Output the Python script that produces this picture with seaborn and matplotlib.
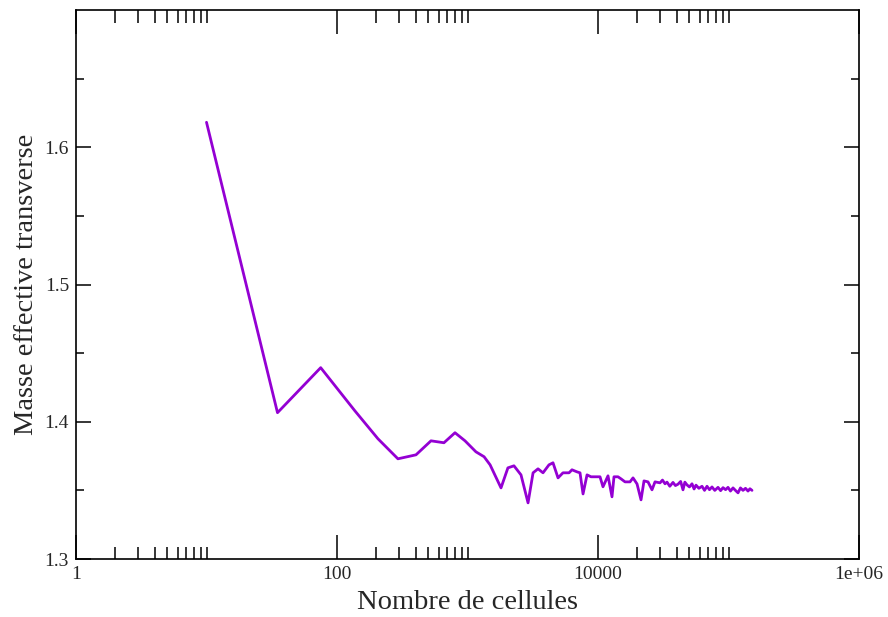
import numpy as np
import pandas as pd
import matplotlib
matplotlib.use("Agg")
import matplotlib.pyplot as plt
import seaborn as sns
from matplotlib.ticker import FixedLocator, NullFormatter

# nombre de cellules / masse effective transverse
cells = [10, 35, 75, 137, 206, 293, 403, 525, 660, 802,
         957, 1160, 1340, 1490, 1806, 2040, 2270, 2570, 2910, 3180,
         3470, 3790, 4210, 4520, 4940, 5390, 6000, 6320, 6900, 7280,
         7680, 8240, 8840, 10360, 10920, 11930, 12800, 13260, 14230, 15010,
         16110, 17590, 18550, 19910, 21360, 22520, 24160, 25930, 27340, 29870,
         31200, 32620, 33790, 35500, 37550, 39200, 41020, 43000, 44800, 46300,
         48080, 50200, 52520, 54500, 56370, 59300, 62660, 65500, 68430, 71500,
         74740, 78500, 83100, 87000, 90780, 95000, 99130, 103500, 108300, 113000,
         118300, 123500, 129200, 135000, 141100, 146000, 151400]
masse = [1.6182, 1.4066, 1.4394, 1.4080, 1.3876, 1.3730, 1.3759, 1.3861, 1.3847, 1.3920,
         1.3861, 1.3781, 1.3745, 1.3686, 1.3518, 1.3664, 1.3679, 1.3613, 1.3409, 1.3628,
         1.3657, 1.3628, 1.3686, 1.3701, 1.3591, 1.3628, 1.3628, 1.3650, 1.3635, 1.3628,
         1.3474, 1.3613, 1.3599, 1.3599, 1.3526, 1.3606, 1.3453, 1.3599, 1.3599, 1.3584,
         1.3562, 1.3562, 1.3591, 1.3547, 1.3431, 1.3569, 1.3562, 1.3504, 1.3562, 1.3555,
         1.3575, 1.3548, 1.3560, 1.3530, 1.3558, 1.3535, 1.3545, 1.3565, 1.3504, 1.3560,
         1.3540, 1.3525, 1.3548, 1.3510, 1.3538, 1.3515, 1.3530, 1.3500, 1.3530, 1.3505,
         1.3525, 1.3500, 1.3522, 1.3498, 1.3520, 1.3505, 1.3522, 1.3495, 1.3518, 1.3500,
         1.3482, 1.3518, 1.3500, 1.3515, 1.3495, 1.3512, 1.3500]

x_major = [1, 100, 10000, 1e6]
x_major_labels = ["1", "100", "10000", "1e+06"]
y_major = [1.3, 1.4, 1.5, 1.6]
y_minor = [1.35, 1.45, 1.55, 1.65]

sns.set_style("ticks")
plt.rcParams['font.family'] = ['Liberation Serif', 'DejaVu Serif']

df = pd.DataFrame({"cells": cells, "masse": masse})

fig = plt.figure(figsize=(8.88, 6.17), dpi=100)
ax = fig.add_axes([76 / 888, 58 / 617, 783 / 888, 549 / 617])

sns.lineplot(data=df, x="cells", y="masse", color="#9400d3", linewidth=2,
             estimator=None, sort=False, ax=ax)

ax.set_xscale("log")
ax.set_xlim(1, 1e6)
ax.set_ylim(1.3, 1.7)

# graduations facon xmgrace : majeures toutes les 2 decades
x_minor = [m * 10 ** d for d in (0, 2, 4) for m in range(2, 11)]
ax.xaxis.set_major_locator(FixedLocator(x_major))
ax.xaxis.set_minor_locator(FixedLocator(x_minor))
ax.xaxis.set_minor_formatter(NullFormatter())
ax.set_xticklabels(x_major_labels)
ax.yaxis.set_major_locator(FixedLocator(y_major))
ax.yaxis.set_minor_locator(FixedLocator(y_minor))
ax.set_yticklabels([f"{v:.1f}" for v in y_major])

ax.tick_params(which='both', direction='in', top=True, right=True,
               color='black', width=1.1, labelsize=14, pad=5)
ax.tick_params(axis='x', which='major', length=17)
ax.tick_params(axis='x', which='minor', length=9)
ax.tick_params(axis='y', which='major', length=11)
ax.tick_params(axis='y', which='minor', length=5.5)

for sp in ax.spines.values():
    sp.set_linewidth(1.2)
    sp.set_color('black')

ax.set_xlabel("Nombre de cellules", fontsize=20.5, labelpad=5)
ax.set_ylabel("Masse effective transverse", fontsize=20.5, labelpad=4)

fig.savefig("out.png", dpi=100)
